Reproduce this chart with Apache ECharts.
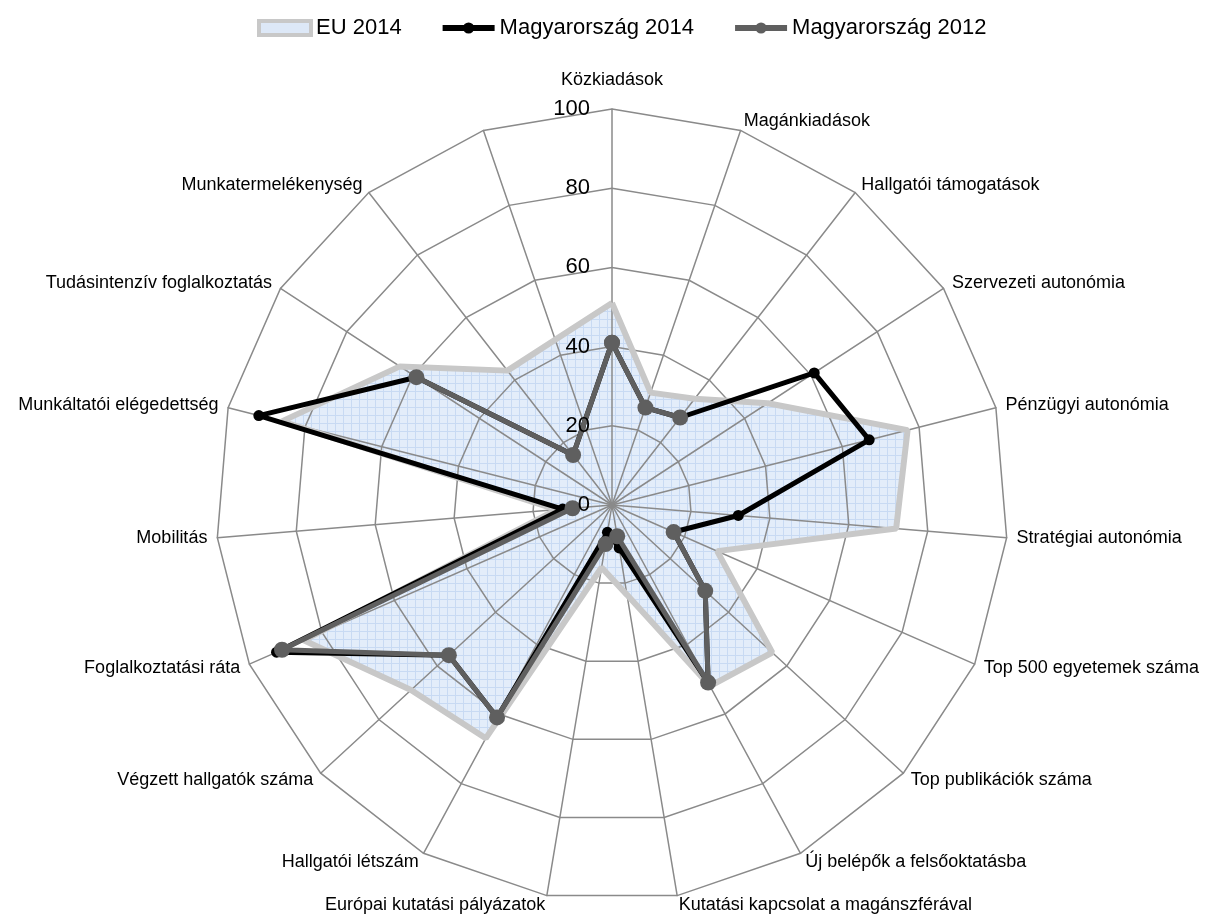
<!DOCTYPE html>
<html>
<head>
<meta charset="utf-8">
<script src="https://cdn.jsdelivr.net/npm/echarts@6/dist/echarts.min.js"></script>
<style>
  html, body { margin: 0; padding: 0; background: #fff; }
  #chart { width: 1205px; height: 924px; }
</style>
</head>
<body>
<div id="chart"></div>
<script>
// spokes, clockwise from the top; the last spoke has no name and no data
var categories = [
  "Közkiadások", "Magánkiadások", "Hallgatói támogatások", "Szervezeti autonómia",
  "Pénzügyi autonómia", "Stratégiai autonómia", "Top 500 egyetemek száma",
  "Top publikációk száma", "Új belépők a felsőoktatásba",
  "Kutatási kapcsolat a magánszférával", "Európai kutatási pályázatok",
  "Hallgatói létszám", "Végzett hallgatók száma", "Foglalkoztatási ráta",
  "Mobilitás", "Munkáltatói elégedettség", "Tudásintenzív foglalkoztatás",
  "Munkatermelékenység", ""
];
var ticks = [0, 20, 40, 60, 80, 100];

// values for the first 18 spokes (null = no data)
var eu2014 = [51, 30, 34, 47, 77, 72, 29, 55, 52, 23, 16, 67, 69, 85, 14, 86, 64, 43];
var hu2014 = [41, 26, 28, 61, 67, 32, 17, 32, 51, 11, 7, 61, 56, 92.5, 12.5, 92, 59, 16];
var hu2012 = [41, 26, 28, null, null, null, 17, 32, 51, 8, 10, 61, 56, 91, 10, null, 59, 16];

var FONT = "'Liberation Sans', Arial, sans-serif";
var CENTER = [612, 505];
var RADIUS = 396;

// light blue fill with a fine grid, like the excel texture
function makePattern() {
  var cv = document.createElement("canvas");
  cv.width = 8;
  cv.height = 8;
  var c = cv.getContext("2d");
  c.fillStyle = "#e3edfa";
  c.fillRect(0, 0, 8, 8);
  c.fillStyle = "#c8daf3";
  c.fillRect(0, 7, 8, 1);
  c.fillRect(7, 0, 1, 8);
  return cv;
}
var pattern = { image: makePattern(), repeat: "repeat" };

// radar lays out counter-clockwise, so reverse everything after the first name
var radarNames = [categories[0]].concat(categories.slice(1).reverse());
var gridIndicators = radarNames.map(function (n, i) {
  var ind = { name: n, min: ticks[0], max: ticks[ticks.length - 1] };
  if (i === 0) ind.nameGap = 20;
  return ind;
});
// second, invisible radar only for the tick labels so they sit on top
var labelIndicators = radarNames.map(function (n, i) {
  var ind = { name: "", min: ticks[0], max: ticks[ticks.length - 1] };
  if (i === 0) {
    ind.axisLabel = {
      show: true,
      color: "#000",
      fontSize: 22,
      fontFamily: FONT,
      margin: 22
    };
  }
  return ind;
});

// [radius, angle] points for polar; the closing point goes back to the top
function toPolar(vals) {
  var pts = vals.map(function (v, k) {
    return [v == null ? "-" : v, k];
  });
  pts.push([vals[0], categories.length]);
  return pts;
}

var chart = echarts.init(document.getElementById("chart"));
chart.setOption({
  animation: false,
  legend: {
    top: 12,
    left: 252,
    itemGap: 38,
    itemWidth: 52,
    itemHeight: 14,
    textStyle: { color: "#000", fontSize: 22, fontFamily: FONT },
    lineStyle: { width: 6 },
    data: [
      { name: "EU 2014", icon: "rect",
        itemStyle: { color: "#dde8f7", borderColor: "#c8c8c8", borderWidth: 4 } },
      "Magyarország 2014",
      "Magyarország 2012"
    ]
  },
  radar: [
    {
      center: CENTER,
      radius: RADIUS,
      startAngle: 90,
      splitNumber: ticks.length - 1,
      shape: "polygon",
      indicator: gridIndicators,
      nameGap: 10,
      axisName: { color: "#000", fontSize: 18, fontFamily: FONT },
      axisLine: { lineStyle: { color: "#8a8a8a", width: 1.5 } },
      splitLine: { lineStyle: { color: "#8a8a8a", width: 1.5 } },
      splitArea: { show: false },
      axisTick: { show: false },
      axisLabel: { show: false },
      z: 2
    },
    {
      center: CENTER,
      radius: RADIUS,
      startAngle: 90,
      splitNumber: ticks.length - 1,
      shape: "polygon",
      indicator: labelIndicators,
      axisName: { show: false },
      axisLine: { show: false },
      splitLine: { show: false },
      splitArea: { show: false },
      axisTick: { show: false },
      axisLabel: { show: false },
      z: 6
    }
  ],
  polar: { center: CENTER, radius: RADIUS },
  angleAxis: {
    type: "value", min: 0, max: categories.length,
    startAngle: 90, clockwise: true, show: false
  },
  radiusAxis: {
    type: "value", min: ticks[0], max: ticks[ticks.length - 1], show: false
  },
  series: [
    {
      // fill only, under the grid
      name: "EU 2014",
      type: "line",
      coordinateSystem: "polar",
      data: toPolar(eu2014),
      symbol: "none",
      lineStyle: { color: "#c8c8c8", width: 6, opacity: 0 },
      itemStyle: { color: "#c8c8c8" },
      areaStyle: { color: pattern, opacity: 1 },
      z: 1
    },
    {
      // outline above the grid
      name: "EU 2014",
      type: "line",
      coordinateSystem: "polar",
      data: toPolar(eu2014),
      symbol: "none",
      lineStyle: { color: "#c8c8c8", width: 6 },
      itemStyle: { color: "#c8c8c8" },
      z: 3
    },
    {
      name: "Magyarország 2014",
      type: "line",
      coordinateSystem: "polar",
      data: toPolar(hu2014),
      symbol: "circle",
      symbolSize: 11,
      lineStyle: { color: "#000", width: 5 },
      itemStyle: { color: "#000" },
      z: 4
    },
    {
      name: "Magyarország 2012",
      type: "line",
      coordinateSystem: "polar",
      data: toPolar(hu2012),
      connectNulls: false,
      symbol: "circle",
      symbolSize: 16,
      lineStyle: { color: "#5f5f5f", width: 5 },
      itemStyle: { color: "#5f5f5f" },
      z: 5
    }
  ]
});
</script>
</body>
</html>
